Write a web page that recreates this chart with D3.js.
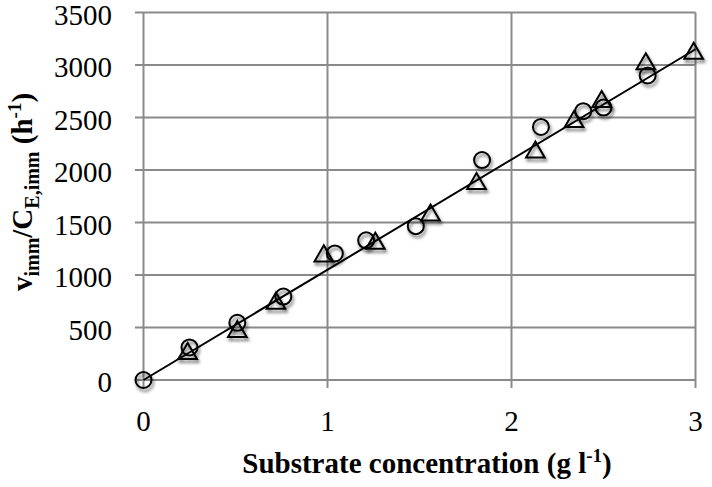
<!DOCTYPE html>
<meta charset="utf-8">
<script src="https://d3js.org/d3.v7.min.js"></script>
<style>
  body { margin: 0; background: #fff; }
  text { font-family: "Liberation Serif", "Times New Roman", serif; fill: #000; }
</style>
<svg width="712" height="487"></svg>

<script>

// circles (first series)
var circleX = [0, 0.25, 0.51, 0.76, 1.04, 1.21, 1.48, 1.84, 2.16, 2.39, 2.50, 2.74];
var circleY = [0, 310, 545, 795, 1205, 1330, 1465, 2095, 2410, 2560, 2595, 2900];

// triangles (second series)
var triX = [0.24, 0.51, 0.72, 0.98, 1.26, 1.56, 1.81, 2.13, 2.34, 2.49, 2.73, 2.99];
var triY = [250, 460, 730, 1180, 1300, 1570, 1870, 2170, 2460, 2650, 3010, 3110];

// linear fit
var fitX = [0, 3];
var fitY = [0, 3150];

var xTicks = [0, 1, 2, 3];
var yTicks = [0, 500, 1000, 1500, 2000, 2500, 3000, 3500];

var svg = d3.select("svg");

var x = d3.scaleLinear().domain([0, 3]).range([143.5, 695.5]);
var y = d3.scaleLinear().domain([0, 3500]).range([380, 12.5]);

// drop shadow for the markers
var defs = svg.append("defs");
defs.append("filter")
    .attr("id", "shadow")
    .attr("x", "-50%").attr("y", "-50%")
    .attr("width", "200%").attr("height", "200%")
  .append("feDropShadow")
    .attr("dx", 1.5).attr("dy", 3)
    .attr("stdDeviation", 1.8)
    .attr("flood-color", "#000")
    .attr("flood-opacity", 0.55);

var gridColor = "#8a8a8a";

// horizontal grid + left ticks
svg.append("g").selectAll("line")
  .data(yTicks)
  .enter().append("line")
    .attr("x1", 135).attr("x2", x(3))
    .attr("y1", function(d) { return y(d); })
    .attr("y2", function(d) { return y(d); })
    .attr("stroke", gridColor).attr("stroke-width", 2);

// vertical grid + bottom ticks
svg.append("g").selectAll("line")
  .data(xTicks)
  .enter().append("line")
    .attr("x1", function(d) { return x(d); })
    .attr("x2", function(d) { return x(d); })
    .attr("y1", y(3500)).attr("y2", 388)
    .attr("stroke", gridColor).attr("stroke-width", 2);

// tick labels
svg.append("g").selectAll("text")
  .data(yTicks)
  .enter().append("text")
    .attr("x", 112)
    .attr("y", function(d) { return y(d) + 12; })
    .attr("text-anchor", "end")
    .style("font-size", "29px")
    .text(function(d) { return d; });

svg.append("g").selectAll("text")
  .data(xTicks)
  .enter().append("text")
    .attr("x", function(d) { return x(d); })
    .attr("y", 431)
    .attr("text-anchor", "middle")
    .style("font-size", "29px")
    .text(function(d) { return d; });

// fit line
svg.append("line")
    .attr("x1", x(fitX[0])).attr("y1", y(fitY[0]))
    .attr("x2", x(fitX[1])).attr("y2", y(fitY[1]))
    .attr("stroke", "#000").attr("stroke-width", 2);

// circles
svg.append("g").selectAll("circle")
  .data(circleX)
  .enter().append("circle")
    .attr("cx", function(d) { return x(d); })
    .attr("cy", function(d, i) { return y(circleY[i]); })
    .attr("r", 8)
    .attr("fill", "none")
    .attr("stroke", "#000")
    .attr("stroke-width", 2)
    .attr("filter", "url(#shadow)");

// triangles
var tri = d3.symbol().type(d3.symbolTriangle).size(150);
svg.append("g").selectAll("path")
  .data(triX)
  .enter().append("path")
    .attr("d", tri)
    .attr("transform", function(d, i) {
      return "translate(" + x(d) + "," + y(triY[i]) + ")";
    })
    .attr("fill", "none")
    .attr("stroke", "#000")
    .attr("stroke-width", 2)
    .attr("filter", "url(#shadow)");

// x axis title
var xt = svg.append("text")
    .attr("x", 427).attr("y", 473)
    .attr("text-anchor", "middle")
    .style("font-size", "29px")
    .style("font-weight", "bold");
xt.append("tspan").text("Substrate concentration (g l");
xt.append("tspan").attr("dy", -11).style("font-size", "19px").text("-1");
xt.append("tspan").attr("dy", 11).text(")");

// y axis title
var yt = svg.append("text")
    .attr("transform", "translate(32,192) rotate(-90)")
    .attr("text-anchor", "middle")
    .style("font-size", "29px")
    .style("font-weight", "bold");
yt.append("tspan").text("v");
yt.append("tspan").attr("dy", 7).style("font-size", "20px").text("imm");
yt.append("tspan").attr("dy", -7).text("/C");
yt.append("tspan").attr("dy", 7).style("font-size", "20px").text("E,imm");
yt.append("tspan").attr("dy", -7).text(" (h");
yt.append("tspan").attr("dy", -11).style("font-size", "19px").text("-1");
yt.append("tspan").attr("dy", 11).text(")");

</script>
